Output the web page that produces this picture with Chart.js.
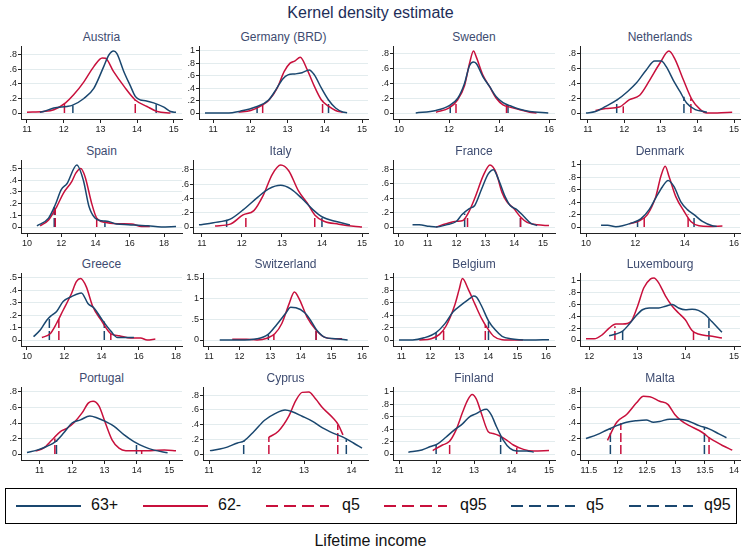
<!DOCTYPE html>
<html lang="en">
<head>
<meta charset="UTF-8">
<script src="https://cdn.jsdelivr.net/npm/chart.js@4"></script>
<title>Kernel density estimate</title>
<style>
  body { margin: 0; width: 741px; height: 548px; position: relative; overflow: hidden; background: #fff;
         font-family: "Liberation Sans", Arial, sans-serif; }
  .abs { position: absolute; white-space: nowrap; }
  #title { left: 0; width: 741px; top: 4px; text-align: center; font-size: 16px; color: #1d2d58; }
  .ptitle { font-size: 12px; color: #3d4b70; text-align: center; line-height: 14px; }
  #legend { left: 5px; top: 488px; width: 730px; height: 34px; border: 1px solid #000; }
  .lg { font-size: 16px; color: #111; top: 7px; }
  #xlabel { left: 0; width: 741px; top: 532px; text-align: center; font-size: 16px; color: #111; }
</style>
</head>
<body>
<div id="title" class="abs">Kernel density estimate</div>
<div id="legend" class="abs">
  <svg width="730" height="34" style="position:absolute;left:0;top:0">
    <line x1="10" y1="17" x2="75" y2="17" stroke="#1a476f" stroke-width="2"/>
    <line x1="137" y1="17" x2="202" y2="17" stroke="#c8103c" stroke-width="2"/>
    <line x1="260" y1="17" x2="323" y2="17" stroke="#c8103c" stroke-width="2" stroke-dasharray="12 6"/>
    <line x1="378" y1="17" x2="441" y2="17" stroke="#c8103c" stroke-width="2" stroke-dasharray="12 6"/>
    <line x1="505" y1="17" x2="569" y2="17" stroke="#1a476f" stroke-width="2" stroke-dasharray="12 6"/>
    <line x1="623" y1="17" x2="687" y2="17" stroke="#1a476f" stroke-width="2" stroke-dasharray="12 6"/>
  </svg>
  <span class="abs lg" style="left:85px">63+</span>
  <span class="abs lg" style="left:212px">62-</span>
  <span class="abs lg" style="left:336px">q5</span>
  <span class="abs lg" style="left:454px">q95</span>
  <span class="abs lg" style="left:580px">q5</span>
  <span class="abs lg" style="left:698px">q95</span>
</div>
<div id="xlabel" class="abs">Lifetime income</div>
<script>
// density curves: [income, density]
const austria63 = [[11.35,.01],[11.45,.02],[11.73,.07],[12.09,.09],[12.23,.105],[12.55,.2],[12.82,.34],[13.09,.64],[13.23,.8],[13.36,.855],[13.45,.82],[13.64,.57],[13.82,.37],[13.95,.23],[14.09,.18],[14.23,.17],[14.45,.14],[14.73,.08],[14.91,.02],[15.06,.01]];
const austria62 = [[11.0,.01],[11.45,.02],[11.73,.045],[12.05,.14],[12.27,.25],[12.55,.43],[12.82,.64],[13.05,.76],[13.14,.755],[13.36,.57],[13.64,.37],[13.95,.18],[14.27,.09],[14.55,.02],[14.91,0]];
const germany63 = [[10.78,0],[11.35,0],[11.73,.03],[12.16,.1],[12.49,.21],[12.68,.37],[12.87,.55],[13.01,.615],[13.2,.63],[13.39,.65],[13.58,.695],[13.72,.615],[13.91,.4],[14.1,.21],[14.29,.08],[14.48,.015],[14.6,.005]];
const germany62 = [[11.68,.015],[12.01,.04],[12.3,.12],[12.49,.2],[12.72,.4],[12.91,.67],[13.06,.8],[13.2,.84],[13.34,.9],[13.53,.695],[13.72,.43],[13.91,.21],[14.1,.11],[14.29,.04],[14.48,.01]];
const sweden63 = [[10.67,0],[11.48,.035],[12.01,.1],[12.35,.2],[12.62,.4],[12.82,.64],[12.98,.69],[13.09,.67],[13.36,.49],[13.62,.36],[13.89,.22],[14.16,.14],[14.43,.1],[14.83,.05],[15.23,.02],[15.97,0]];
const sweden62 = [[11.48,.01],[12.01,.07],[12.35,.18],[12.62,.37],[12.82,.67],[12.98,.84],[13.09,.76],[13.36,.51],[13.62,.36],[13.89,.2],[14.16,.11],[14.43,.08],[14.83,.045],[15.23,.01],[15.5,0]];
const netherlands63 = [[10.95,0],[11.21,.02],[11.49,.09],[11.81,.18],[12.09,.29],[12.32,.4],[12.6,.58],[12.83,.7],[13.01,.7],[13.15,.62],[13.34,.44],[13.52,.29],[13.71,.13],[13.94,.045],[14.17,.02],[14.26,.01]];
const netherlands62 = [[11.21,.035],[11.49,.06],[11.86,.08],[12.14,.18],[12.42,.24],[12.69,.44],[12.97,.67],[13.22,.835],[13.38,.73],[13.62,.44],[13.85,.18],[14.08,.045],[14.26,0],[14.54,0],[14.95,.01]];
const spain63 = [[10.58,.01],[11.26,.076],[11.65,.19],[12.0,.32],[12.33,.37],[12.91,.53],[13.29,.4],[13.62,.175],[13.97,.076],[14.36,.054],[14.75,.048],[15.23,.025],[15.91,.02],[16.49,.015],[17.07,.01],[17.84,0],[18.7,.005]];
const spain62 = [[10.77,.01],[11.26,.06],[11.74,.175],[12.13,.29],[12.62,.39],[12.85,.46],[13.14,.5],[13.39,.43],[13.78,.2],[14.07,.076],[14.55,.04],[15.33,.028],[16.11,.025],[16.69,.005],[17.17,.005]];
const italy63 = [[10.93,.03],[11.29,.06],[11.71,.11],[12.03,.24],[12.4,.42],[12.67,.535],[12.97,.585],[13.22,.535],[13.5,.4],[13.78,.24],[14.01,.14],[14.33,.08],[14.7,.03]];
const italy62 = [[11.33,.015],[11.71,.04],[12.03,.17],[12.3,.23],[12.53,.44],[12.76,.74],[12.97,.87],[13.17,.79],[13.41,.51],[13.64,.33],[13.82,.17],[14.05,.08],[14.42,.04],[14.79,.01],[15.0,0]];
const france63 = [[10.47,.03],[10.7,.03],[11.05,.01],[11.29,0],[11.64,.03],[12.0,.08],[12.18,.17],[12.46,.26],[12.63,.3],[12.87,.53],[13.1,.74],[13.28,.8],[13.45,.67],[13.69,.42],[13.86,.3],[14.1,.24],[14.33,.15],[14.57,.055],[14.8,.02]];
const france62 = [[11.29,0],[11.64,.045],[12.0,.08],[12.22,.09],[12.4,.19],[12.63,.4],[12.93,.72],[13.16,.865],[13.37,.76],[13.57,.49],[13.75,.35],[13.98,.26],[14.22,.14],[14.45,.065],[14.8,.03],[15.21,.02]];
const denmark63 = [[10.61,.027],[10.88,.03],[11.21,.005],[11.48,.02],[11.89,.07],[12.22,.13],[12.56,.28],[12.83,.47],[13.1,.65],[13.33,.75],[13.57,.65],[13.84,.41],[14.11,.28],[14.38,.2],[14.72,.09],[15.12,.02],[15.3,.01]];
const denmark62 = [[11.75,.05],[12.16,.1],[12.49,.2],[12.83,.49],[13.03,.81],[13.21,.98],[13.37,.81],[13.64,.49],[13.98,.25],[14.25,.09],[14.58,.02],[14.99,.01],[15.53,.015]];
const greece63 = [[10.35,.027],[10.71,.08],[11.06,.16],[11.33,.2],[11.59,.23],[11.94,.31],[12.39,.35],[12.92,.38],[13.27,.295],[13.62,.255],[13.98,.175],[14.51,.07],[14.86,.02],[15.39,.02],[15.74,.02]];
const greece62 = [[10.8,.02],[11.24,.05],[11.59,.135],[11.94,.24],[12.39,.375],[12.65,.47],[12.88,.495],[13.18,.43],[13.53,.27],[13.98,.16],[14.51,.05],[14.95,.035],[15.57,.016],[16.1,.016],[16.45,0],[16.89,.008]];
const switzerland63 = [[11.35,0],[11.99,0],[12.57,.03],[12.92,.13],[13.21,.37],[13.5,.64],[13.67,.79],[13.84,.78],[14.13,.66],[14.3,.5],[14.53,.23],[14.77,.07],[15.12,.03],[15.53,0]];
const switzerland62 = [[11.76,.02],[12.22,.02],[12.57,0],[12.92,.05],[13.15,.15],[13.38,.4],[13.62,.88],[13.79,1.16],[13.97,.96],[14.2,.56],[14.49,.25],[14.77,.07],[15.12,.03],[15.35,.03]];
const belgium63 = [[10.92,0],[11.39,0],[11.79,.035],[12.2,.12],[12.5,.26],[12.79,.455],[13.08,.57],[13.37,.67],[13.49,.71],[13.6,.69],[13.78,.54],[14.01,.31],[14.25,.16],[14.48,.06],[14.77,.02],[15.47,0],[16.1,.005]];
const belgium62 = [[11.62,0],[12.03,.02],[12.32,.09],[12.55,.23],[12.85,.57],[13.0,.82],[13.11,.99],[13.31,.82],[13.55,.57],[13.78,.34],[13.96,.2],[14.19,.06],[14.48,.005],[15.0,0],[15.2,0]];
const luxembourg63 = [[12.41,.07],[12.55,.1],[12.69,.15],[12.82,.26],[12.96,.4],[13.1,.51],[13.24,.54],[13.44,.54],[13.58,.57],[13.72,.6],[13.85,.54],[13.99,.51],[14.13,.52],[14.26,.5],[14.4,.43],[14.54,.31],[14.75,.13]];
const luxembourg62 = [[11.93,.02],[12.1,.02],[12.27,.09],[12.41,.2],[12.55,.27],[12.69,.27],[12.86,.31],[13.0,.57],[13.13,.88],[13.27,1.03],[13.34,1.045],[13.44,.96],[13.58,.74],[13.72,.57],[13.85,.455],[13.99,.34],[14.13,.16],[14.26,.1],[14.47,.07],[14.75,.035]];
const portugal63 = [[10.61,.02],[10.92,.05],[11.23,.1],[11.49,.16],[11.74,.27],[12.0,.4],[12.26,.44],[12.55,.49],[12.78,.465],[13.03,.42],[13.29,.36],[13.6,.25],[13.91,.16],[14.22,.095],[14.53,.05],[14.95,.017]];
const portugal62 = [[10.87,.04],[11.12,.075],[11.38,.18],[11.64,.29],[11.84,.33],[12.05,.4],[12.31,.53],[12.51,.66],[12.65,.68],[12.83,.62],[13.03,.4],[13.24,.18],[13.45,.075],[13.66,.043],[14.02,.043],[14.43,.043],[14.85,.052],[15.21,.043]];
const cyprus63 = [[11.02,.046],[11.31,.08],[11.6,.15],[11.74,.18],[11.95,.31],[12.17,.46],[12.39,.55],[12.6,.6],[12.74,.58],[12.96,.515],[13.18,.445],[13.39,.355],[13.61,.285],[13.82,.23],[14.04,.15],[14.22,.08]];
const cyprus62 = [[12.26,.23],[12.46,.31],[12.68,.515],[12.82,.72],[12.96,.84],[13.1,.845],[13.25,.745],[13.39,.63],[13.61,.49],[13.72,.4],[13.82,.26]];
const finland63 = [[11.25,.03],[11.61,.064],[11.84,.12],[12.02,.16],[12.25,.27],[12.47,.385],[12.7,.49],[12.88,.6],[13.06,.65],[13.2,.7],[13.33,.72],[13.46,.63],[13.6,.44],[13.78,.225],[13.96,.09],[14.14,.05],[14.41,.05],[14.59,.03]];
const finland62 = [[11.9,.055],[12.16,.145],[12.34,.2],[12.52,.385],[12.7,.68],[12.83,.87],[12.95,.96],[13.06,.89],[13.2,.65],[13.38,.36],[13.51,.33],[13.69,.29],[13.87,.225],[14.05,.145],[14.32,.075],[14.59,.05],[15.0,.055]];
const malta63 = [[11.45,.2],[11.64,.25],[11.81,.31],[11.98,.366],[12.15,.41],[12.32,.43],[12.49,.44],[12.61,.41],[12.72,.42],[12.89,.45],[13.06,.45],[13.23,.42],[13.4,.366],[13.57,.324],[13.74,.26],[13.87,.21]];
const malta62 = [[11.82,.177],[11.98,.41],[12.15,.51],[12.32,.66],[12.44,.745],[12.55,.74],[12.72,.68],[12.86,.64],[12.98,.51],[13.09,.43],[13.23,.366],[13.4,.303],[13.49,.26],[13.57,.21],[13.69,.156],[13.8,.11],[13.97,.05]];

// quantile markers: [q5, q95] positions with the density height where the dashed line stops
const q62 = [[[12.02,.13],[13.95,.18]], [[12.33,.13],[13.94,.2]], [[12.28,.15],[14.3,.11]], [[11.97,.09],[13.82,.2]],
             [[11.65,.16],[14.07,.076]], [[12.1,.17],[13.82,.17]], [[12.38,.17],[14.22,.14]], [[12.36,.15],[14.14,.2]],
             [[11.71,.17],[14.5,.05]], [[13.12,.12],[14.5,.25]], [[12.46,.2],[13.9,.24]], [[12.53,.23],[14.16,.14]],
             [[11.47,.2],[14.15,.04]], [[12.26,.23],[13.71,.4]], [[12.35,.2],[14.14,.1]], [[12.05,.4],[13.57,.21]]];
const q63 = [[[12.25,.105],[14.52,.12]], [[12.18,.1],[14.1,.2]], [[12.05,.1],[14.36,.11]], [[11.79,.17],[13.63,.22]],
             [[11.59,.17],[14.55,.05]], [[11.62,.1],[14.0,.14]], [[12.28,.19],[14.22,.16]], [[12.09,.09],[14.38,.19]],
             [[11.2,.17],[14.15,.15]], [[12.94,.13],[14.5,.25]], [[12.2,.12],[14.01,.3]], [[12.69,.15],[14.48,.36]],
             [[11.52,.18],[13.99,.15]], [[11.73,.18],[13.89,.2]], [[11.99,.15],[13.71,.29]], [[11.87,.33],[13.49,.35]]];

const countries = ['Austria', 'Germany (BRD)', 'Sweden', 'Netherlands', 'Spain', 'Italy', 'France', 'Denmark',
                   'Greece', 'Switzerland', 'Belgium', 'Luxembourg', 'Portugal', 'Cyprus', 'Finland', 'Malta'];
const curves63 = [austria63, germany63, sweden63, netherlands63, spain63, italy63, france63, denmark63,
                  greece63, switzerland63, belgium63, luxembourg63, portugal63, cyprus63, finland63, malta63];
const curves62 = [austria62, germany62, sweden62, netherlands62, spain62, italy62, france62, denmark62,
                  greece62, switzerland62, belgium62, luxembourg62, portugal62, cyprus62, finland62, malta62];

const xTicks = [[11,12,13,14,15], [11,12,13,14,15], [10,12,14,16], [11,12,13,14,15],
                [10,12,14,16,18], [11,12,13,14,15], [10,11,12,13,14,15], [10,12,14,16],
                [10,12,14,16,18], [11,12,13,14,15,16], [11,12,13,14,15,16], [12,13,14,15],
                [11,12,13,14,15], [11,12,13,14], [11,12,13,14,15], [11.5,12,12.5,13,13.5,14]];
const yTicks = [[0,.2,.4,.6,.8], [0,.2,.4,.6,.8,1], [0,.2,.4,.6,.8], [0,.2,.4,.6,.8],
                [0,.1,.2,.3,.4,.5], [0,.2,.4,.6,.8], [0,.2,.4,.6,.8], [0,.2,.4,.6,.8,1],
                [0,.1,.2,.3,.4,.5], [0,.5,1,1.5], [0,.2,.4,.6,.8,1], [0,.2,.4,.6,.8,1],
                [0,.2,.4,.6,.8], [0,.2,.4,.6,.8], [0,.2,.4,.6,.8,1], [0,.2,.4,.6,.8]];

const BLUE = '#1a476f', RED = '#c8103c';

// panel layout (pixels)
const zeroY = [113, 227, 340, 454];
const axisX = [[21,199,393,580], [21,193,393,580], [21,203,393,580], [21,203,393,580]];
const rightX = [182, 368, 555, 740];

Chart.defaults.font.family = '"Liberation Sans", Arial, sans-serif';

function fmt(v) {
    return String(Math.round(v * 100) / 100).replace(/^0\./, '.');
}

function quantLine(p, color) {
    return {
        data: [{x: p[0], y: 0}, {x: p[0], y: p[1]}],
        borderColor: color, borderWidth: 1.5, borderDash: [9, 3],
        pointRadius: 0, fill: false
    };
}

countries.forEach(function(name, i) {
    var r = Math.floor(i / 4), c = i % 4;
    var ax = axisX[r][c], right = rightX[c], zero = zeroY[r];
    var plotW = right - ax;

    var t = document.createElement('div');
    t.className = 'abs ptitle';
    t.textContent = name;
    t.style.cssText = 'left:' + ax + 'px;width:' + plotW + 'px;top:' + (zero - 83) + 'px';
    document.body.appendChild(t);

    var xs = curves63[i].concat(curves62[i]).map(p => p[0]);
    var ys = curves63[i].concat(curves62[i]).map(p => p[1]);
    var xt = xTicks[i], yt = yTicks[i];
    var lo = Math.min(xt[0], Math.min.apply(null, xs));
    var hi = Math.max(xt[xt.length - 1], Math.max.apply(null, xs));
    var mx = 6 / (plotW - 12) * (hi - lo);
    var M = Math.max(yt[yt.length - 1], Math.max.apply(null, ys));

    var cv = document.createElement('canvas');
    var cw = plotW + 21 + 6, ch = 103;
    cv.width = cw; cv.height = ch;
    cv.style.cssText = 'position:absolute;left:' + (ax - 21) + 'px;top:' + (zero - 75) + 'px;width:' + cw + 'px;height:' + ch + 'px';
    document.body.appendChild(cv);

    new Chart(cv.getContext('2d'), {
        type: 'line',
        data: {
            datasets: [
                {data: curves63[i].map(p => ({x: p[0], y: p[1]})), borderColor: BLUE, borderWidth: 1.5,
                 pointRadius: 0, cubicInterpolationMode: 'monotone'},
                {data: curves62[i].map(p => ({x: p[0], y: p[1]})), borderColor: RED, borderWidth: 1.5,
                 pointRadius: 0, cubicInterpolationMode: 'monotone'},
                quantLine(q62[i][0], RED), quantLine(q62[i][1], RED),
                quantLine(q63[i][0], BLUE), quantLine(q63[i][1], BLUE)
            ]
        },
        options: {
            responsive: false,
            animation: false,
            devicePixelRatio: 1,
            layout: {padding: {top: 8, right: 6, left: 0, bottom: 0}},
            plugins: {legend: {display: false}, tooltip: {enabled: false}},
            scales: {
                x: {
                    type: 'linear', min: lo - mx, max: hi + mx,
                    afterBuildTicks: s => { s.ticks = xt.map(v => ({value: v})); },
                    afterFit: s => { s.height = 22; },
                    ticks: {autoSkip: false, maxRotation: 0, padding: 1, color: '#222', font: {size: 9}, callback: v => fmt(v)},
                    grid: {drawOnChartArea: false, tickLength: 4, color: '#222'},
                    border: {color: '#222'}
                },
                y: {
                    min: -6 / 62 * M, max: M + 5 / 62 * M,
                    afterBuildTicks: s => { s.ticks = yt.map(v => ({value: v})); },
                    afterFit: s => { s.width = 21; },
                    ticks: {autoSkip: false, padding: 1, color: '#222', font: {size: 9}, callback: v => fmt(v)},
                    grid: {color: '#e3ecee', tickColor: '#222', tickLength: 3},
                    border: {color: '#222'}
                }
            }
        }
    });
});
</script>
</body>
</html>
